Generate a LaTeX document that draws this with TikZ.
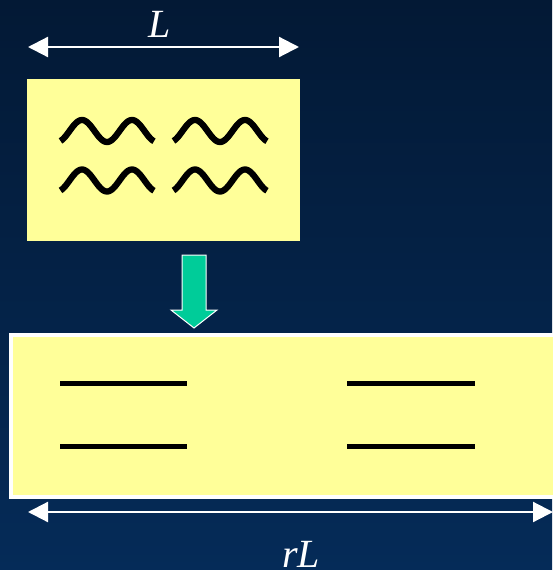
\documentclass[tikz,border=0pt]{standalone}
\usepackage{fontspec}
\setmainfont{Liberation Serif}
\usetikzlibrary{arrows.meta}
\definecolor{bgtop}{RGB}{3,25,53}
\definecolor{bgbot}{RGB}{5,43,88}
\definecolor{boxyellow}{RGB}{255,255,153}
\definecolor{arrowgreen}{RGB}{0,204,153}
\tikzset{
  box/.style={fill=boxyellow, draw=none, inner sep=0pt, outer sep=0pt},
  dimarrow/.style={draw=white, line width=2.2pt, {Triangle[length=20pt,width=20pt]}-{Triangle[length=20pt,width=20pt]}},
  wave/.style={line width=6.3pt, draw=black},
  bar/.style={line width=5pt, draw=black},
  lbl/.style={text=white, font=\fontsize{40}{40}\selectfont\itshape, inner sep=0pt, anchor=base},
  bigarrow/.style={fill=arrowgreen, draw=white, line width=1pt, line join=miter}
}
\begin{document}
\begin{tikzpicture}[x=1pt,y=-1pt]
\useasboundingbox (0,0) rectangle (552,570);
\shade[top color=bgtop, bottom color=bgbot] (0,0) rectangle (552,570);

% dimension arrow L
\coordinate (La) at (28,47);
\coordinate (Lb) at (299,47);
\draw[dimarrow] (La) -- (Lb);
\node[lbl] (Llabel) at (160,37) {L};

% top box
\path[box] (27,79) rectangle (300,241);

% waves
\foreach \ox/\oy in {0/0, 113/0, 0/49.5, 113/49.5}{
  \draw[wave] plot[domain={60.5+\ox}:{154+\ox}, samples=80, smooth]
    (\x, {131+\oy - 11*cos(deg(2*pi*(\x-82-\ox)/50))});
}

% green arrow
\filldraw[bigarrow] (182,255) -- (206,255) -- (206,310) -- (217,310) -- (194,328) -- (171,310) -- (182,310) -- cycle;

% bottom box
\path[box] (9,333) rectangle (570,499);
\draw[white, line width=4pt] (11,335) rectangle (580,497);

% bars
\draw[bar] (60,383) -- (187,383);
\draw[bar] (347,383) -- (475,383);
\draw[bar] (60,446) -- (187,446);
\draw[bar] (347,446) -- (475,446);

% dimension arrow rL
\coordinate (Ra) at (28,512);
\coordinate (Rb) at (553,512);
\draw[dimarrow] (Ra) -- (Rb);
\node[lbl] (Rlabel) at (301,567) {rL};
\end{tikzpicture}
\end{document}
